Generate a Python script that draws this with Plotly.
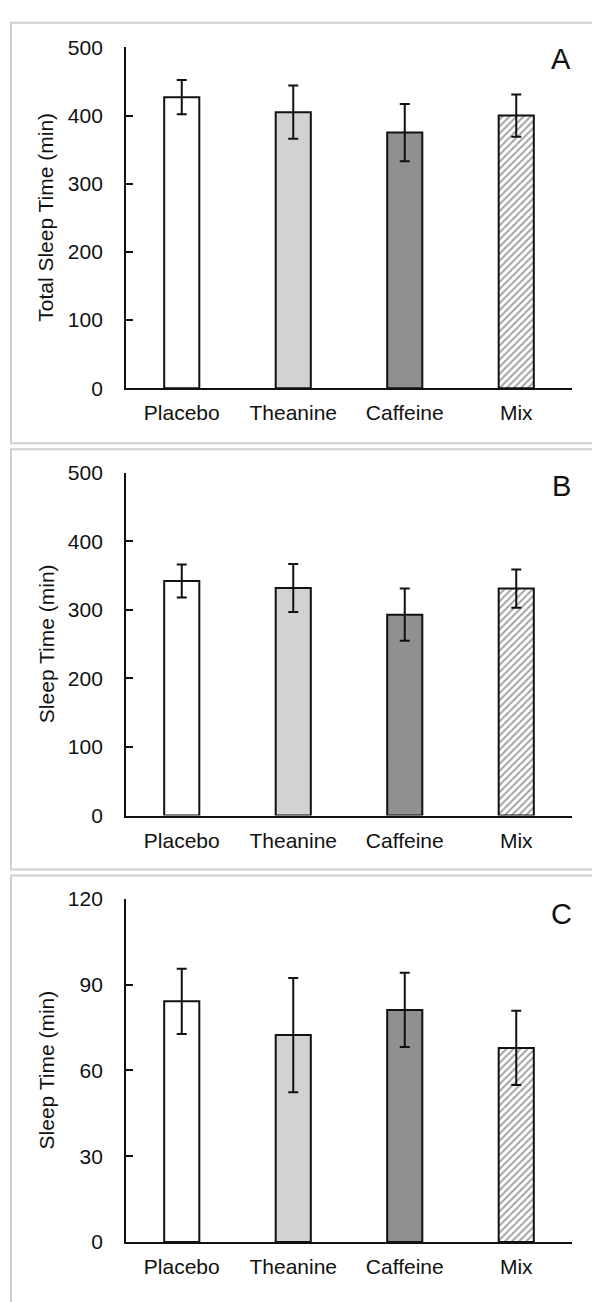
import plotly.graph_objects as go

W, H = 592, 1302

categories = ["Placebo", "Theanine", "Caffeine", "Mix"]

# Panel A: Total Sleep Time
total_sleep = [427, 405, 375, 400]
total_sleep_err = [25, 39, 42, 31]

# Panel B: Sleep Time
sleep_b = [342, 332, 293, 331]
sleep_b_err = [24, 35, 38, 28]

# Panel C: Sleep Time
sleep_c = [84.2, 72.4, 81.2, 67.9]
sleep_c_err = [11.4, 20.0, 13.0, 13.0]

panel_letters = ["A", "B", "C"]
y_titles = ["Total Sleep Time (min)", "Sleep Time (min)", "Sleep Time (min)"]
y_ranges = [[0, 500], [0, 500], [0, 120]]
y_dticks = [100, 100, 30]

bar_colors = ["#ffffff", "#d2d2d2", "#909090", "#ffffff"]
pattern_shapes = ["", "", "", "/"]

FONT = "Liberation Sans, Arial, Helvetica, sans-serif"

def py(p):
    return 1 - p / H

def px(p):
    return p / W

# pixel geometry
x_dom = [px(126), px(572)]
y_doms = [[py(383), py(36)], [py(818), py(469)], [py(1252), py(903)]]
borders = [(11, 439), (445, 873), (879, 1320)]
letter_y = [48, 483, 918]

values = [total_sleep, sleep_b, sleep_c]
errors = [total_sleep_err, sleep_b_err, sleep_c_err]

fig = go.Figure()
layout = dict(
    width=W, height=H,
    margin=dict(l=0, r=0, t=0, b=0),
    paper_bgcolor="white", plot_bgcolor="white",
    showlegend=False,
    font=dict(family=FONT, size=21, color="#111111"),
    shapes=[], annotations=[],
)

for i in range(3):
    sfx = "" if i == 0 else str(i + 1)
    fig.add_trace(go.Bar(
        x=categories, y=values[i],
        xaxis="x" + sfx, yaxis="y" + sfx,
        width=0.315,
        marker=dict(
            color=bar_colors,
            line=dict(color="#111111", width=2),
            pattern=dict(shape=pattern_shapes, fgcolor="#8c8c8c",
                         bgcolor="#ffffff", size=5, solidity=0.4),
        ),
        error_y=dict(type="data", array=errors[i], visible=True,
                     color="#111111", thickness=2, width=5),
    ))
    layout["xaxis" + sfx] = dict(
        domain=x_dom, anchor="y" + sfx, range=[-0.5, 3.5],
        showline=True, linecolor="#111111", linewidth=1.8,
        ticks="", showgrid=False, zeroline=False,
        tickfont=dict(family=FONT, size=21, color="#111111"),
        ticklabelstandoff=5, fixedrange=True,
    )
    layout["yaxis" + sfx] = dict(
        domain=y_doms[i], anchor="x" + sfx, range=y_ranges[i],
        dtick=y_dticks[i], tick0=0,
        showline=True, linecolor="#111111", linewidth=1.8,
        ticks="inside", ticklen=7, tickwidth=1.8, tickcolor="#111111",
        showgrid=False, zeroline=False,
        tickfont=dict(family=FONT, size=21, color="#111111"),
        ticklabelstandoff=17, fixedrange=True,
    )
    y0, y1 = borders[i]
    layout["shapes"].append(dict(
        type="rect", xref="paper", yref="paper",
        x0=px(11), x1=1.05, y0=py(y1), y1=py(y0),
        line=dict(color="#d0d0d0", width=2), fillcolor="rgba(0,0,0,0)",
        layer="below",
    ))
    layout["annotations"].append(dict(
        text=panel_letters[i], xref="paper", yref="paper",
        x=px(561), y=py(letter_y[i]), xanchor="center", yanchor="middle",
        showarrow=False, font=dict(family=FONT, size=29, color="#111111"),
    ))
    layout["annotations"].append(dict(
        text=y_titles[i], xref="paper", yref="paper",
        x=px(46), y=(y_doms[i][0] + y_doms[i][1]) / 2,
        xanchor="center", yanchor="middle", textangle=-90,
        showarrow=False, font=dict(family=FONT, size=21, color="#111111"),
    ))

fig.update_layout(**layout)
fig.write_html("out.html")
